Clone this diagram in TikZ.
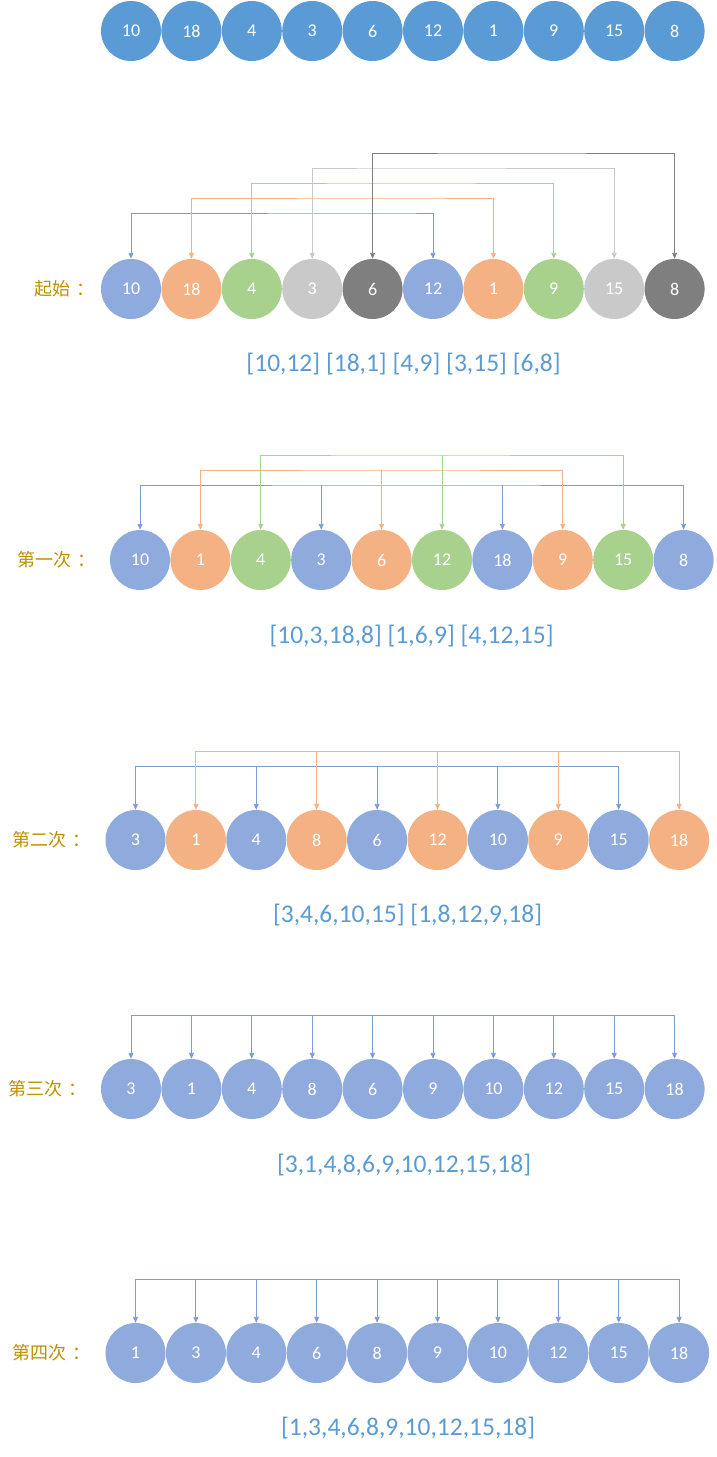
\documentclass[tikz,border=0pt]{standalone}
\usepackage{fontspec}
\setmainfont{Carlito}
\newfontfamily\cjk{Noto Sans CJK SC}
\usetikzlibrary{arrows.meta}
\definecolor{topblue}{HTML}{5B9BD5}
\definecolor{pblue}{HTML}{8FAADC}
\definecolor{lblue}{HTML}{7C9CD8}
\definecolor{porange}{HTML}{F4B183}
\definecolor{pgreen}{HTML}{A9D18E}
\definecolor{pgray}{HTML}{C9C9C9}
\definecolor{pdark}{HTML}{7F7F7F}
\definecolor{gold}{HTML}{BF9000}
\begin{document}
\begin{tikzpicture}[x=1pt,y=-1pt,
    >={Triangle[length=6pt,width=5pt]},
    ball/.style={circle,fill=#1,minimum size=60pt,inner sep=0pt,text=white,font=\fontsize{18}{20}\selectfont},
    rowlabel/.style={anchor=west,inner sep=0pt,text=gold,font=\cjk\fontsize{18}{20}\selectfont},
    listtext/.style={inner sep=0pt,text=topblue,font=\fontsize{25.5}{28}\selectfont},
    conn/.style={draw=#1,line width=0.9pt}]
    \useasboundingbox (0,0) rectangle (717,1457);
    % original
    \node[ball=topblue] (t1) at (131,31) {10};
    \node[ball=topblue] (t2) at (191.4,31) {18};
    \node[ball=topblue] (t3) at (251.8,31) {4};
    \node[ball=topblue] (t4) at (312.2,31) {3};
    \node[ball=topblue] (t5) at (372.6,31) {6};
    \node[ball=topblue] (t6) at (433,31) {12};
    \node[ball=topblue] (t7) at (493.4,31) {1};
    \node[ball=topblue] (t8) at (553.8,31) {9};
    \node[ball=topblue] (t9) at (614.2,31) {15};
    \node[ball=topblue] (t10) at (674.6,31) {8};
    % start
    \node[rowlabel] (sl) at (34,289) {起始\hspace{6pt}：};
    \node[ball=pblue] (s1) at (131,289) {10};
    \node[ball=porange] (s2) at (191.4,289) {18};
    \node[ball=pgreen] (s3) at (251.8,289) {4};
    \node[ball=pgray] (s4) at (312.2,289) {3};
    \node[ball=pdark] (s5) at (372.6,289) {6};
    \node[ball=pblue] (s6) at (433,289) {12};
    \node[ball=porange] (s7) at (493.4,289) {1};
    \node[ball=pgreen] (s8) at (553.8,289) {9};
    \node[ball=pgray] (s9) at (614.2,289) {15};
    \node[ball=pdark] (s10) at (674.6,289) {8};
    \coordinate (sb1) at (400,213);
    \coordinate (sb2) at (400,198);
    \coordinate (sb3) at (400,183);
    \coordinate (sb4) at (400,168);
    \coordinate (sb5) at (500,153);
    \draw[conn=lblue,<->] (s1.north) |- (sb1) -| (s6.north);
    \draw[conn=porange,<->] (s2.north) |- (sb2) -| (s7.north);
    \draw[conn=pgreen,<->] (s3.north) |- (sb3) -| (s8.north);
    \draw[conn=pgray,<->] (s4.north) |- (sb4) -| (s9.north);
    \draw[conn=pdark,<->] (s5.north) |- (sb5) -| (s10.north);
    \node[listtext] (sx) at (403.5,364) {[10,12] [18,1] [4,9] [3,15] [6,8]};
    % first pass
    \node[rowlabel] (al) at (17,560) {第一次\hspace{6pt}：};
    \node[ball=pblue] (a1) at (140,560) {10};
    \node[ball=porange] (a2) at (200.4,560) {1};
    \node[ball=pgreen] (a3) at (260.8,560) {4};
    \node[ball=pblue] (a4) at (321.2,560) {3};
    \node[ball=porange] (a5) at (381.6,560) {6};
    \node[ball=pgreen] (a6) at (442,560) {12};
    \node[ball=pblue] (a7) at (502.4,560) {18};
    \node[ball=porange] (a8) at (562.8,560) {9};
    \node[ball=pgreen] (a9) at (623.2,560) {15};
    \node[ball=pblue] (a10) at (683.6,560) {8};
    \coordinate (ab1) at (400,485);
    \coordinate (ab2) at (400,470);
    \coordinate (ab3) at (400,455);
    \draw[conn=lblue,<->] (a1.north) |- (ab1) -| (a10.north);
    \draw[conn=lblue,->] (a4.north |- ab1) -- (a4.north);
    \draw[conn=lblue,->] (a7.north |- ab1) -- (a7.north);
    \draw[conn=porange,<->] (a2.north) |- (ab2) -| (a8.north);
    \draw[conn=porange,->] (a5.north |- ab2) -- (a5.north);
    \draw[conn=pgreen,<->] (a3.north) |- (ab3) -| (a9.north);
    \draw[conn=pgreen,->] (a6.north |- ab3) -- (a6.north);
    \node[listtext] (ax) at (411.5,636) {[10,3,18,8] [1,6,9] [4,12,15]};
    % second pass
    \node[rowlabel] (bl) at (12.5,840) {第二次\hspace{6pt}：};
    \node[ball=pblue] (b1) at (135.5,840) {3};
    \node[ball=porange] (b2) at (195.9,840) {1};
    \node[ball=pblue] (b3) at (256.3,840) {4};
    \node[ball=porange] (b4) at (316.7,840) {8};
    \node[ball=pblue] (b5) at (377.1,840) {6};
    \node[ball=porange] (b6) at (437.5,840) {12};
    \node[ball=pblue] (b7) at (497.9,840) {10};
    \node[ball=porange] (b8) at (558.3,840) {9};
    \node[ball=pblue] (b9) at (618.7,840) {15};
    \node[ball=porange] (b10) at (679.1,840) {18};
    \coordinate (bb1) at (400,766);
    \coordinate (bb2) at (400,751);
    \draw[conn=lblue,<->] (b1.north) |- (bb1) -| (b9.north);
    \draw[conn=lblue,->] (b3.north |- bb1) -- (b3.north);
    \draw[conn=lblue,->] (b5.north |- bb1) -- (b5.north);
    \draw[conn=lblue,->] (b7.north |- bb1) -- (b7.north);
    \draw[conn=porange,<->] (b2.north) |- (bb2) -| (b10.north);
    \draw[conn=porange,->] (b4.north |- bb2) -- (b4.north);
    \draw[conn=porange,->] (b6.north |- bb2) -- (b6.north);
    \draw[conn=porange,->] (b8.north |- bb2) -- (b8.north);
    \node[listtext] (bx) at (407.5,915) {[3,4,6,10,15] [1,8,12,9,18]};
    % third pass
    \node[rowlabel] (cl) at (8,1089) {第三次\hspace{6pt}：};
    \node[ball=pblue] (c1) at (131,1089) {3};
    \node[ball=pblue] (c2) at (191.4,1089) {1};
    \node[ball=pblue] (c3) at (251.8,1089) {4};
    \node[ball=pblue] (c4) at (312.2,1089) {8};
    \node[ball=pblue] (c5) at (372.6,1089) {6};
    \node[ball=pblue] (c6) at (433,1089) {9};
    \node[ball=pblue] (c7) at (493.4,1089) {10};
    \node[ball=pblue] (c8) at (553.8,1089) {12};
    \node[ball=pblue] (c9) at (614.2,1089) {15};
    \node[ball=pblue] (c10) at (674.6,1089) {18};
    \coordinate (cb) at (400,1015);
    \draw[conn=lblue,<->] (c1.north) |- (cb) -| (c10.north);
    \draw[conn=lblue,->] (c2.north |- cb) -- (c2.north);
    \draw[conn=lblue,->] (c3.north |- cb) -- (c3.north);
    \draw[conn=lblue,->] (c4.north |- cb) -- (c4.north);
    \draw[conn=lblue,->] (c5.north |- cb) -- (c5.north);
    \draw[conn=lblue,->] (c6.north |- cb) -- (c6.north);
    \draw[conn=lblue,->] (c7.north |- cb) -- (c7.north);
    \draw[conn=lblue,->] (c8.north |- cb) -- (c8.north);
    \draw[conn=lblue,->] (c9.north |- cb) -- (c9.north);
    \node[listtext] (cx) at (404,1165) {[3,1,4,8,6,9,10,12,15,18]};
    % fourth pass
    \node[rowlabel] (dl) at (12.5,1353) {第四次\hspace{6pt}：};
    \node[ball=pblue] (d1) at (135.5,1353) {1};
    \node[ball=pblue] (d2) at (195.9,1353) {3};
    \node[ball=pblue] (d3) at (256.3,1353) {4};
    \node[ball=pblue] (d4) at (316.7,1353) {6};
    \node[ball=pblue] (d5) at (377.1,1353) {8};
    \node[ball=pblue] (d6) at (437.5,1353) {9};
    \node[ball=pblue] (d7) at (497.9,1353) {10};
    \node[ball=pblue] (d8) at (558.3,1353) {12};
    \node[ball=pblue] (d9) at (618.7,1353) {15};
    \node[ball=pblue] (d10) at (679.1,1353) {18};
    \coordinate (db) at (400,1279);
    \draw[conn=lblue,<->] (d1.north) |- (db) -| (d10.north);
    \draw[conn=lblue,->] (d2.north |- db) -- (d2.north);
    \draw[conn=lblue,->] (d3.north |- db) -- (d3.north);
    \draw[conn=lblue,->] (d4.north |- db) -- (d4.north);
    \draw[conn=lblue,->] (d5.north |- db) -- (d5.north);
    \draw[conn=lblue,->] (d6.north |- db) -- (d6.north);
    \draw[conn=lblue,->] (d7.north |- db) -- (d7.north);
    \draw[conn=lblue,->] (d8.north |- db) -- (d8.north);
    \draw[conn=lblue,->] (d9.north |- db) -- (d9.north);
    \node[listtext] (dx) at (408,1428) {[1,3,4,6,8,9,10,12,15,18]};
\end{tikzpicture}
\end{document}
